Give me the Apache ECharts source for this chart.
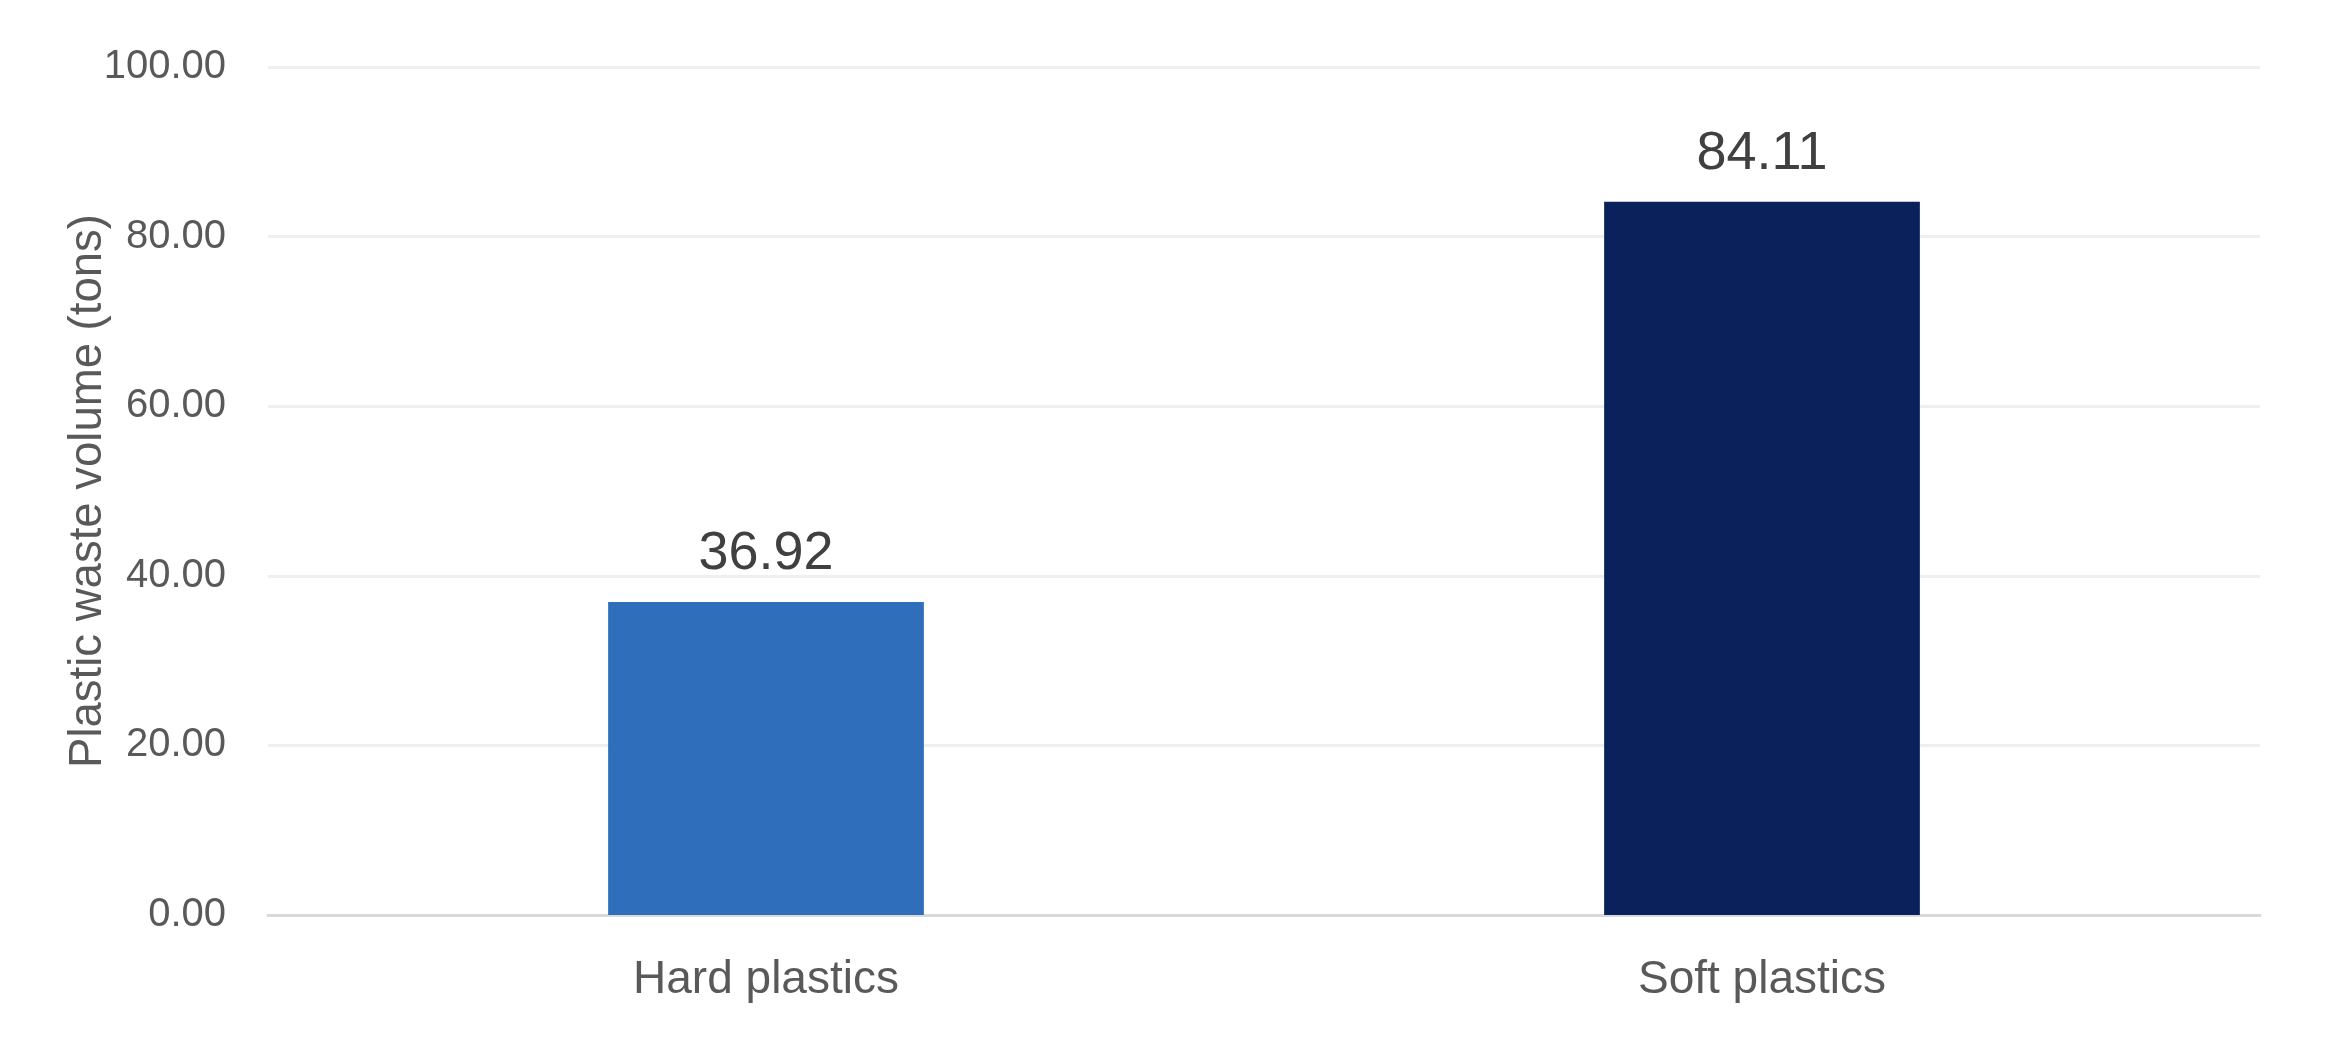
<!DOCTYPE html>
<html>
<head>
<meta charset="utf-8">
<script src="https://cdn.jsdelivr.net/npm/echarts@6/dist/echarts.min.js"></script>
<style>
html,body{margin:0;padding:0;background:#fff;}
#chart{width:2332px;height:1054px;}
</style>
</head>
<body>
<div id="chart"></div>
<script>
const categories = ['Hard plastics', 'Soft plastics'];
const values = [36.92, 84.11];
const barColors = ['#2F6EBA', '#0B215C'];
const yAxisName = 'Plastic waste volume (tons)';

const chart = echarts.init(document.getElementById('chart'));
chart.setOption({
  animation: false,
  backgroundColor: '#ffffff',
  grid: { left: 268, right: 72, top: 67, bottom: 139 },
  xAxis: {
    type: 'category',
    data: categories,
    axisLine: { show: true, lineStyle: { color: '#D9D9D9', width: 3 } },
    axisTick: { show: false },
    axisLabel: { color: '#595959', fontSize: 46, fontFamily: 'Liberation Sans', margin: 42 }
  },
  yAxis: {
    type: 'value',
    min: 0, max: 100, interval: 20,
    name: yAxisName,
    nameLocation: 'middle',
    nameGap: 157,
    nameMoveOverlap: false,
    nameTextStyle: { color: '#595959', fontSize: 45.5, fontFamily: 'Liberation Sans' },
    axisLine: { show: false },
    axisTick: { show: false },
    axisLabel: { color: '#595959', fontSize: 40, fontFamily: 'Liberation Sans', margin: 42,
      formatter: v => v.toFixed(2) },
    splitLine: { lineStyle: { color: '#EFEFEF', width: 3 } }
  },
  series: [{
    type: 'bar',
    data: values.map((v, i) => ({ value: v, itemStyle: { color: barColors[i] } })),
    barWidth: '31.7%',
    label: {
      show: true, position: 'top', distance: 21,
      color: '#404040', fontSize: 54, fontFamily: 'Liberation Sans',
      formatter: p => p.value.toFixed(2)
    }
  }]
});
</script>
</body>
</html>
